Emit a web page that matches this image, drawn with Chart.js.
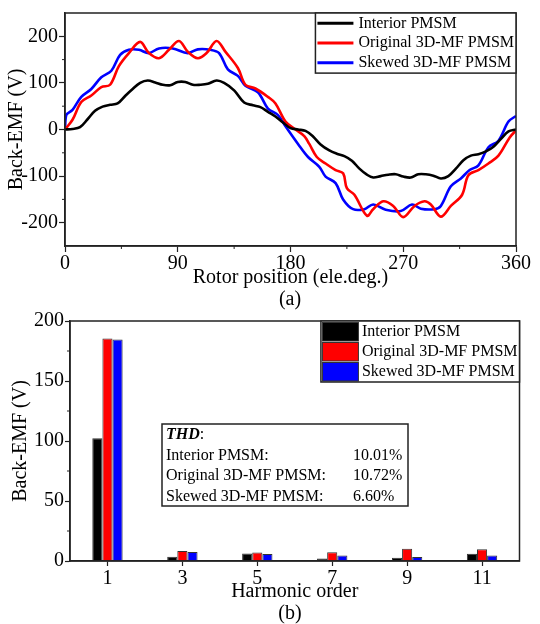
<!DOCTYPE html>
<html>
<head>
<meta charset="utf-8">
<script src="https://cdn.jsdelivr.net/npm/chart.js@4.4.0/dist/chart.umd.min.js"></script>
<style>
  body { margin: 0; background: #fff; width: 540px; height: 624px; position: relative; overflow: hidden;
         font-family: "Liberation Serif", "Times New Roman", serif; }
  canvas { position: absolute; left: 0; }
  #emf { top: 0; }
  #harm { top: 308px; }
  .cap { position: absolute; width: 580px; left: 0; text-align: center; font-size: 20px; line-height: 24px; color: #000; }
</style>
</head>
<body>
<canvas id="emf" width="540" height="290"></canvas>
<div class="cap" style="top:286px">(a)</div>
<canvas id="harm" width="540" height="296"></canvas>
<div class="cap" style="top:600px">(b)</div>
<script>
// (a) back-EMF waveforms: rotor position (ele.deg.) and voltage (V)
const seriesNames = ['Interior PMSM', 'Original 3D-MF PMSM', 'Skewed 3D-MF PMSM'];

const interiorDeg = [0,6,12,18,24,30,36,42,48,54,60,66,72,78,84,90,96,102,108,114,121,127,135,143,150,156,162,168,174,180,186,192,198,204,211,217,223,229,235,241,246,252,258,264,270,276,282,288,294,300,306,312,318,324,330,336,342,348,354,360];
const interiorEmf = [0,1,5,22,40,49,53,56,72,87,100,105,101,96,95,102,102,96,96,98,105,100,84,58,52,48,38,28,15,3,0,-3,-15,-32,-45,-52,-57,-67,-84,-97,-103,-100,-97,-96,-101,-103,-96,-96,-99,-105,-100,-84,-66,-56,-53,-47,-37,-20,-4,0];

const originalDeg = [0,6,13,21,29,36,43,51,60,67,75,83,91,98,106,113,121,128,138,144,152,162,168,176,184,191,195,201,208,216,222,225,231,241,246,254,262,270,279,287,292,300,308,317,322,330,338,346,355,360];
const originalEmf = [0,21,59,73,91,96,136,164,188,164,153,171,190,167,153,164,190,167,132,96,88,70,56,17,0,-14,-31,-59,-73,-87,-94,-126,-140,-185,-171,-154,-164,-188,-164,-154,-161,-187,-164,-140,-98,-87,-73,-56,-17,-2];

const skewedDeg = [0,1,6,13,21,29,37,44,51,59,67,75,86,98,106,116,123,130,138,144,154,162,170,176,186,194,203,208,216,222,230,239,246,256,268,277,284,295,300,308,316,323,330,338,346,354,360];
const skewedEmf = [0,31,42,70,87,112,126,160,171,171,164,174,174,164,172,171,164,129,115,94,80,45,31,7,-31,-59,-80,-101,-115,-150,-171,-171,-161,-172,-175,-161,-170,-171,-164,-122,-105,-87,-77,-38,-24,17,29];

const emfTicks = [-200, -100, 0, 100, 200];

// (b) harmonic spectrum
const harmonicOrder = ['1', '3', '5', '7', '9', '11'];
const harmInterior = [102.2, 3.6, 6.2, 2.0, 2.8, 6.1];
const harmOriginal = [185.4, 8.4, 7.0, 7.3, 10.3, 9.8];
const harmSkewed = [184.6, 7.4, 5.9, 4.5, 3.4, 4.5];

const thdLabels = ['Interior PMSM:', 'Original 3D-MF PMSM:', 'Skewed 3D-MF PMSM:'];
const thdValues = ['10.01%', '10.72%', '6.60%'];

const colors = ['#000000', '#ff0000', '#0000ff'];
const serif = "'Liberation Serif', 'Times New Roman', serif";
const ink = '#222';
Chart.defaults.font.family = serif;
Chart.defaults.color = '#000';

function pts(xs, ys) {
  return xs.map((x, i) => ({ x: x, y: ys[i] }));
}

// closes the plot box on top and right
const boxFrame = {
  id: 'boxFrame',
  afterDraw(chart) {
    const { ctx, chartArea: a } = chart;
    ctx.save();
    ctx.strokeStyle = ink;
    ctx.lineWidth = 1.5;
    ctx.strokeRect(a.left, a.top, a.right - a.left, a.bottom - a.top);
    ctx.restore();
  }
};

// short ticks half way between the labelled ones
const minorTicks = {
  id: 'minorTicks',
  afterDraw(chart, args, opts) {
    const { ctx, chartArea: a } = chart;
    ctx.save();
    ctx.strokeStyle = ink;
    ctx.lineWidth = 1;
    ['x', 'y'].forEach(id => {
      if (!opts[id]) return;
      const s = chart.scales[id];
      const v = s.ticks.map(t => t.value);
      for (let i = 0; i < v.length - 1; i++) {
        const p = s.getPixelForValue((v[i] + v[i + 1]) / 2);
        ctx.beginPath();
        if (id === 'x') { ctx.moveTo(p, a.bottom); ctx.lineTo(p, a.bottom + 3); }
        else { ctx.moveTo(a.left, p); ctx.lineTo(a.left - 3, p); }
        ctx.stroke();
      }
    });
    ctx.restore();
  }
};

// legend in a box at the top right corner of the plot
const boxLegend = {
  id: 'boxLegend',
  afterDraw(chart, args, opts) {
    if (!opts.kind) return;
    const { ctx, chartArea: a } = chart;
    const sets = chart.data.datasets;
    ctx.save();
    ctx.font = '16px ' + serif;
    const textW = Math.max(...sets.map(d => ctx.measureText(d.label).width));
    const rowH = opts.rowH;
    const w = opts.textX + textW + 2;
    const h = rowH * sets.length + 1;
    const x0 = a.right - w, y0 = a.top;
    ctx.fillStyle = '#fff';
    ctx.fillRect(x0, y0, w, h);
    sets.forEach((d, i) => {
      const cy = y0 + rowH * (i + 0.5) + 0.5;
      if (opts.kind === 'line') {
        ctx.strokeStyle = d.borderColor;
        ctx.lineWidth = 3;
        ctx.beginPath();
        ctx.moveTo(x0 + 2, cy);
        ctx.lineTo(x0 + 38, cy);
        ctx.stroke();
      } else {
        ctx.fillStyle = d.backgroundColor;
        ctx.fillRect(x0 + 1.5, y0 + 1.5 + i * rowH, 36, rowH - 1.5);
        ctx.strokeStyle = '#333';
        ctx.lineWidth = 1;
        ctx.strokeRect(x0 + 1.5, y0 + 1.5 + i * rowH, 36, rowH - 1.5);
      }
      ctx.fillStyle = '#000';
      ctx.textBaseline = 'middle';
      ctx.fillText(d.label, x0 + opts.textX, cy);
    });
    ctx.strokeStyle = ink;
    ctx.lineWidth = 1.5;
    ctx.strokeRect(x0, y0, w, h);
    ctx.restore();
  }
};

// THD note inside the spectrum plot
const thdBox = {
  id: 'thdBox',
  afterDraw(chart, args, opts) {
    if (!opts.show) return;
    const { ctx, chartArea: a } = chart;
    const x0 = a.left + 92, y0 = a.top + 103, w = 246, h = 82;
    ctx.save();
    ctx.fillStyle = '#fff';
    ctx.fillRect(x0, y0, w, h);
    ctx.strokeStyle = ink;
    ctx.lineWidth = 1.5;
    ctx.strokeRect(x0, y0, w, h);
    ctx.fillStyle = '#000';
    ctx.textBaseline = 'middle';
    ctx.font = 'italic bold 16px ' + serif;
    ctx.fillText('THD', x0 + 4, y0 + 10.5);
    const tw = ctx.measureText('THD').width;
    ctx.font = '16px ' + serif;
    ctx.fillText(':', x0 + 4 + tw, y0 + 10.5);
    thdLabels.forEach((t, i) => {
      const cy = y0 + 31.5 + i * 20.5;
      ctx.fillText(t, x0 + 4, cy);
      ctx.fillText(thdValues[i], x0 + 191, cy);
    });
    ctx.restore();
  }
};

const tickFont = { size: 20 };
const axisGrid = { drawOnChartArea: false, color: ink, tickLength: 6, tickWidth: 1.2 };
const axisBorder = { color: ink, width: 1.5 };

new Chart(document.getElementById('emf'), {
  type: 'line',
  data: {
    datasets: [
      { label: seriesNames[0], data: pts(interiorDeg, interiorEmf), borderColor: colors[0] },
      { label: seriesNames[1], data: pts(originalDeg, originalEmf), borderColor: colors[1] },
      { label: seriesNames[2], data: pts(skewedDeg, skewedEmf), borderColor: colors[2] }
    ]
  },
  options: {
    responsive: false,
    animation: false,
    layout: { padding: { top: 5, right: 24, left: 0, bottom: 0 } },
    elements: {
      point: { radius: 0 },
      line: { borderWidth: 2.6, tension: 0.35, fill: false }
    },
    plugins: {
      legend: { display: false },
      tooltip: { enabled: false },
      boxLegend: { kind: 'line', textX: 43, rowH: 19.7 },
      minorTicks: { x: true, y: true }
    },
    scales: {
      x: {
        type: 'linear', min: 0, max: 360,
        grid: axisGrid, border: axisBorder,
        ticks: { stepSize: 90, font: tickFont, padding: 0, maxRotation: 0 },
        title: { display: true, text: 'Rotor position (ele.deg.)', font: { size: 20 }, padding: 0 },
        afterFit(s) { s.height = 44; }
      },
      y: {
        min: -250, max: 250,
        grid: axisGrid, border: axisBorder,
        ticks: { font: tickFont, padding: 1 },
        afterBuildTicks(s) { s.ticks = emfTicks.map(v => ({ value: v })); },
        title: { display: true, text: 'Back-EMF (V)', font: { size: 20 }, padding: { top: 5, bottom: 0 } },
        afterFit(s) { s.width = 65; }
      }
    }
  },
  plugins: [boxFrame, minorTicks, boxLegend]
});

new Chart(document.getElementById('harm'), {
  type: 'bar',
  data: {
    labels: harmonicOrder,
    datasets: [
      { label: seriesNames[0], data: harmInterior, backgroundColor: colors[0] },
      { label: seriesNames[1], data: harmOriginal, backgroundColor: colors[1] },
      { label: seriesNames[2], data: harmSkewed, backgroundColor: colors[2] }
    ]
  },
  options: {
    responsive: false,
    animation: false,
    layout: { padding: { top: 13, right: 20.5, left: 0, bottom: 0 } },
    datasets: { bar: { categoryPercentage: 0.405, barPercentage: 1, borderColor: '#333', borderWidth: 1 } },
    plugins: {
      legend: { display: false },
      tooltip: { enabled: false },
      boxLegend: { kind: 'box', textX: 41, rowH: 20 },
      thdBox: { show: true },
      minorTicks: { y: true }
    },
    scales: {
      x: {
        grid: Object.assign({}, axisGrid, { offset: false, tickLength: 5 }), border: axisBorder,
        ticks: { font: tickFont, padding: 1, maxRotation: 0 },
        title: { display: true, text: 'Harmonic order', font: { size: 20 }, padding: 0 },
        afterFit(s) { s.height = 43; }
      },
      y: {
        min: 0, max: 200,
        grid: Object.assign({}, axisGrid, { tickLength: 5 }), border: axisBorder,
        ticks: { stepSize: 50, font: tickFont, padding: 1 },
        title: { display: true, text: 'Back-EMF (V)', font: { size: 20 }, padding: { top: 9, bottom: 0 } },
        afterFit(s) { s.width = 70; }
      }
    }
  },
  plugins: [boxFrame, minorTicks, boxLegend, thdBox]
});
</script>
</body>
</html>
